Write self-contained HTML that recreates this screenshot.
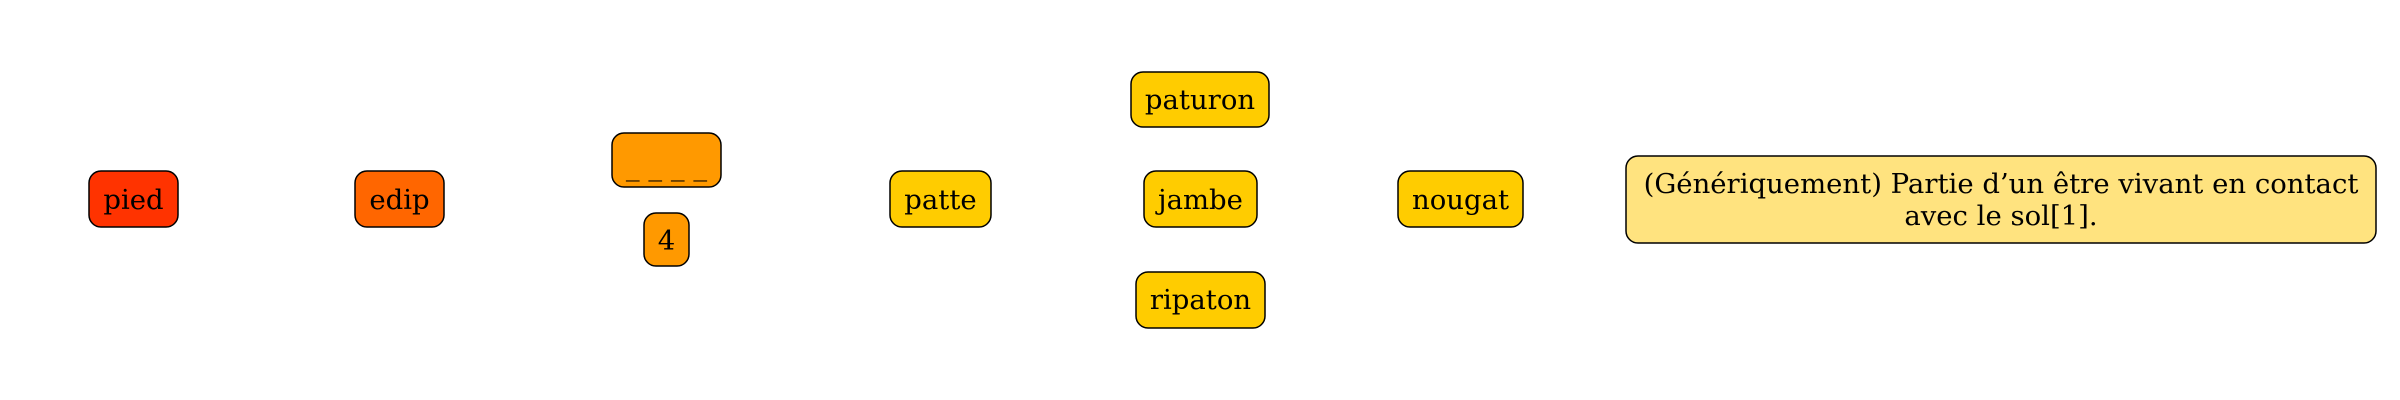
<!DOCTYPE html>
<html><head><meta charset="utf-8"><style>
html,body{margin:0;padding:0;background:#fff;}
svg{display:block;}
text{font-family:"DejaVu Serif","Liberation Serif",serif;font-size:27.5px;fill:#000;text-anchor:middle;}
rect{stroke:#000;stroke-width:1.5;}
</style></head><body>
<svg width="2400" height="400" viewBox="0 0 2400 400" xmlns="http://www.w3.org/2000/svg">
<rect x="89" y="171" width="89" height="56" rx="12" fill="#ff3300"/>
<text x="133.5" y="209">pied</text>
<rect x="355" y="171" width="89" height="56" rx="12" fill="#ff6600"/>
<text x="399.5" y="209">edip</text>
<rect x="612" y="133" width="109" height="54" rx="12" fill="#ff9900"/>
<text x="666.5" y="175">_ _ _ _</text>
<rect x="644" y="213" width="45" height="53" rx="12" fill="#ff9900"/>
<text x="666.5" y="250">4</text>
<rect x="890" y="171" width="101" height="56" rx="12" fill="#ffcc00"/>
<text x="940.5" y="209">patte</text>
<rect x="1131" y="72" width="138" height="55" rx="12" fill="#ffcc00"/>
<text x="1200" y="109">paturon</text>
<rect x="1144" y="171" width="113" height="56" rx="12" fill="#ffcc00"/>
<text x="1200.5" y="209">jambe</text>
<rect x="1136" y="272" width="129" height="56" rx="12" fill="#ffcc00"/>
<text x="1200.5" y="309">ripaton</text>
<rect x="1626" y="156" width="750" height="87" rx="12" fill="#ffe37f"/>
<rect x="1398" y="171" width="125" height="56" rx="12" fill="#ffcc00"/>
<text x="1460.5" y="209">nougat</text>
<text x="2001" y="193">(Génériquement) Partie d’un être vivant en contact</text>
<text x="2001" y="225">avec le sol[1].</text>
</svg>
</body></html>
